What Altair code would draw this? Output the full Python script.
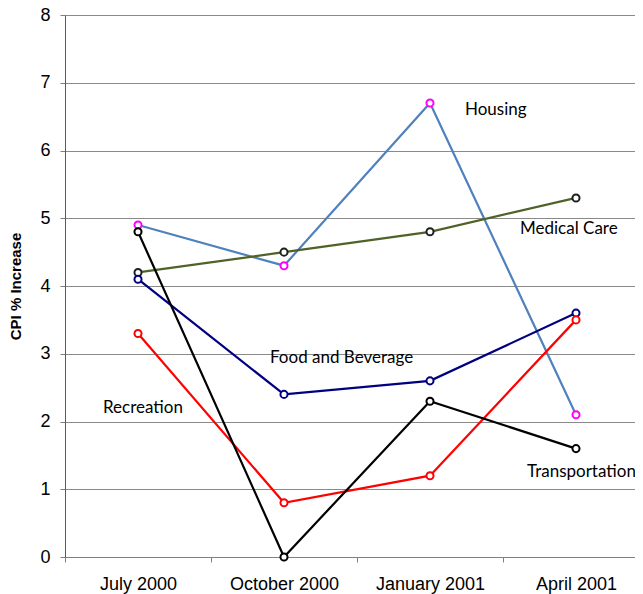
import altair as alt
import pandas as pd

months = ["July 2000", "October 2000", "January 2001", "April 2001"]
series_names = ["Housing", "Medical Care", "Food and Beverage", "Recreation", "Transportation"]
housing = [4.9, 4.3, 6.7, 2.1]
medical = [4.2, 4.5, 4.8, 5.3]
food = [4.1, 2.4, 2.6, 3.6]
recreation = [3.3, 0.8, 1.2, 3.5]
transportation = [4.8, 0.0, 2.3, 1.6]
line_colors = ["#4F81BD", "#4F6228", "#000080", "#FF0000", "#000000"]
marker_colors = ["#FF00FF", "#1F1F1F", "#000080", "#FF0000", "#000000"]

# annotation labels: (text, anchor month, y value, pixel offset from anchor)
ann_text = ["Housing", "Medical Care", "Food and Beverage", "Recreation", "Transportation"]
ann_month = ["January 2001", "April 2001", "October 2000", "July 2000", "April 2001"]
ann_y = [6.60, 4.84, 2.94, 2.20, 1.25]
ann_dx = [35, -56, -14, -35, -49]

rows = []
for name, vals in zip(series_names, [housing, medical, food, recreation, transportation]):
    for m, v in zip(months, vals):
        rows.append({"Month": m, "Series": name, "Value": v})
df = pd.DataFrame(rows)

x_scale = alt.Scale(type="band", paddingInner=0, paddingOuter=0, range=[0, 584])

x_enc = alt.X(
    "Month:N",
    sort=months,
    scale=x_scale,
    bandPosition=0.5,
    axis=alt.Axis(
        title=None,
        labelFont="Liberation Sans",
        labelFontSize=18,
        labelColor="#000000",
        labelAngle=0,
        labelPadding=13,
        tickBand="extent",
        tickSize=5,
        tickColor="#808080",
        domainColor="#808080",
        grid=False,
    ),
)
y_enc = alt.Y(
    "Value:Q",
    scale=alt.Scale(domain=[0, 8], nice=False),
    axis=alt.Axis(
        title="CPI % Increase",
        titleFont="Liberation Sans",
        titleFontSize=15,
        titleFontWeight="bold",
        titleColor="#000000",
        titleX=-45,
        titleY=271,
        titleAngle=-90,
        titleBaseline="alphabetic",
        titleAlign="center",
        values=list(range(0, 9)),
        format="d",
        labelFont="Liberation Sans",
        labelFontSize=18,
        labelColor="#000000",
        labelPadding=10,
        tickSize=5,
        tickColor="#808080",
        domainColor="#5a5a5a",
        gridColor="#8a8a8a",
        gridWidth=1,
        gridOpacity=1,
    ),
)

base = alt.Chart(df)
lines = base.mark_line(strokeWidth=2.2).encode(
    x=x_enc,
    y=y_enc,
    color=alt.Color("Series:N", scale=alt.Scale(domain=series_names, range=line_colors), legend=None),
    detail="Series:N",
)
points = base.mark_point(shape="circle", filled=True, fill="white", size=50, strokeWidth=2, opacity=1).encode(
    x=alt.X("Month:N", sort=months, bandPosition=0.5),
    y="Value:Q",
    stroke=alt.Stroke("Series:N", scale=alt.Scale(domain=series_names, range=marker_colors), legend=None),
)

layers = [lines, points]
for t, m, yv, dx in zip(ann_text, ann_month, ann_y, ann_dx):
    d = pd.DataFrame({"Month": [m], "Value": [yv], "Label": [t]})
    layers.append(
        alt.Chart(d).mark_text(
            align="left", baseline="middle", dx=dx, font="Lato", fontSize=17, color="#000000"
        ).encode(x=alt.X("Month:N", sort=months, bandPosition=0.5), y="Value:Q", text="Label:N")
    )

chart = (
    alt.layer(*layers)
    .resolve_scale(color="independent")
    .properties(
        width=570,
        height=542,
        padding={"left": 57, "top": 7, "right": 0, "bottom": 37},
        autosize="none",
        background="white",
    )
    .configure_view(stroke=None)
)

chart.save("out.html", embed_options={"renderer": "svg", "actions": False})
